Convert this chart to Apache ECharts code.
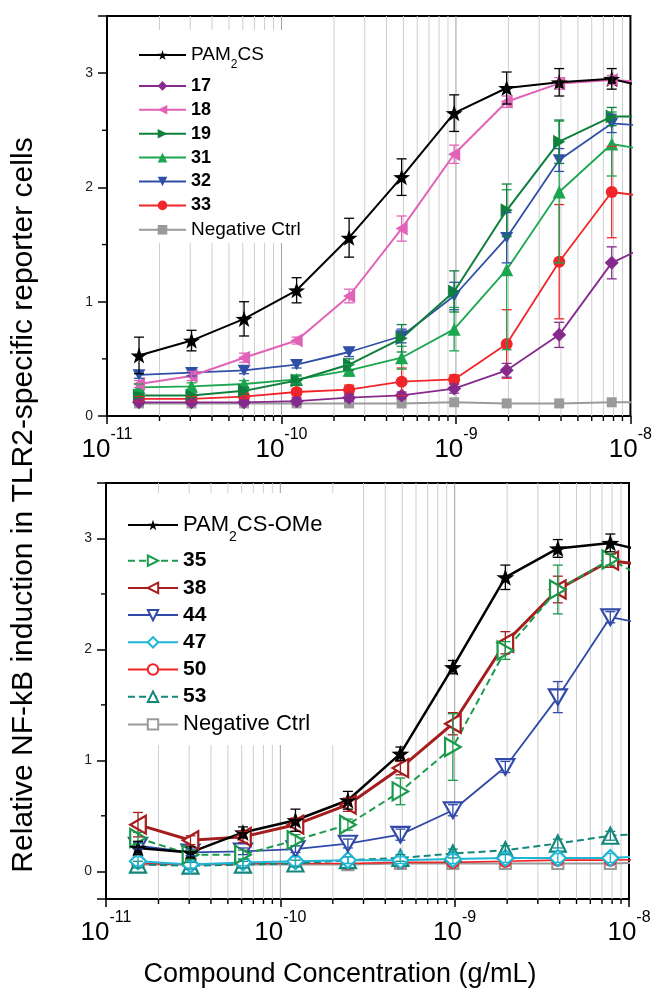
<!DOCTYPE html>
<html>
<head>
<meta charset="utf-8">
<script src="https://cdn.jsdelivr.net/npm/echarts@6/dist/echarts.min.js"></script>
<style>
html, body { margin: 0; padding: 0; background: #fff; }
#chart { width: 655px; height: 990px; }
</style>
</head>
<body>
<div id="chart"></div>
<script>
// concentrations in g/mL (2-fold dilutions, the last one sits past the right edge)
var conc = [1.526e-11, 3.052e-11, 6.104e-11, 1.221e-10, 2.441e-10, 4.883e-10, 9.766e-10, 1.953e-9, 3.906e-9, 7.813e-9, 1.5625e-8];
var decades = [1e-11, 1e-10, 1e-9, 1e-8];
var minorMult = [2, 3, 4, 5, 6, 7, 8, 9];
var yMinor = [0.5, 1.5, 2.5];

// top panel
var pam2cs    = [0.53, 0.66, 0.85, 1.10, 1.56, 2.09, 2.65, 2.87, 2.92, 2.95, 2.84];
var pam2csErr = [0.16, 0.09, 0.15, 0.11, 0.17, 0.16, 0.16, 0.14, 0.12, 0.09];
var c17    = [0.12, 0.12, 0.12, 0.13, 0.16, 0.18, 0.24, 0.40, 0.71, 1.34, 1.56];
var c17Err = [0.02, 0.02, 0.02, 0.03, 0.03, 0.03, 0.04, 0.06, 0.11, 0.14];
var c18    = [0.28, 0.35, 0.51, 0.66, 1.05, 1.64, 2.29, 2.75, 2.91, 2.94, 2.91];
var c18Err = [0.03, 0.04, 0.04, 0.03, 0.06, 0.11, 0.08, 0.05, 0.05, 0.04];
var c19    = [0.18, 0.18, 0.22, 0.31, 0.45, 0.68, 1.09, 1.80, 2.40, 2.62, 2.62];
var c19Err = [0.02, 0.02, 0.03, 0.04, 0.05, 0.12, 0.18, 0.23, 0.19, 0.08];
var c31    = [0.25, 0.26, 0.28, 0.32, 0.40, 0.51, 0.76, 1.28, 1.96, 2.38, 2.30];
var c31Err = [0.03, 0.03, 0.03, 0.04, 0.05, 0.10, 0.19, 0.70, 0.62, 0.28];
var c32    = [0.36, 0.38, 0.40, 0.45, 0.56, 0.70, 1.05, 1.56, 2.24, 2.56, 2.53];
var c32Err = [0.03, 0.03, 0.03, 0.03, 0.04, 0.06, 0.12, 0.22, 0.10, 0.08];
var c33    = [0.15, 0.15, 0.17, 0.21, 0.23, 0.30, 0.32, 0.63, 1.35, 1.96, 1.90];
var c33Err = [0.02, 0.02, 0.02, 0.03, 0.04, 0.12, 0.04, 0.30, 0.50, 0.40];
var negTop = [0.11, 0.11, 0.11, 0.11, 0.11, 0.11, 0.12, 0.11, 0.11, 0.12, 0.12];

// bottom panel
var pamOMe    = [0.21, 0.17, 0.35, 0.46, 0.64, 1.06, 1.84, 2.65, 2.91, 2.96, 2.85];
var pamOMeErr = [0.06, 0.05, 0.05, 0.10, 0.08, 0.06, 0.06, 0.11, 0.08, 0.08];
var c35    = [0.30, 0.15, 0.15, 0.28, 0.42, 0.72, 1.12, 1.99, 2.54, 2.81, 2.56];
var c35Err = [0.05, 0.04, 0.04, 0.05, 0.05, 0.12, 0.30, 0.08, 0.22, 0.05];
var c38    = [0.42, 0.28, 0.31, 0.42, 0.60, 0.93, 1.33, 2.06, 2.54, 2.80, 2.74];
var c38Err = [0.11, 0.04, 0.05, 0.06, 0.06, 0.06, 0.10, 0.10, 0.12, 0.06];
var c44    = [0.23, 0.17, 0.18, 0.20, 0.25, 0.33, 0.55, 0.94, 1.57, 2.29, 2.20];
var c44Err = [0.03, 0.03, 0.03, 0.03, 0.04, 0.05, 0.05, 0.05, 0.14, 0.05];
var c47    = [0.09, 0.06, 0.08, 0.09, 0.10, 0.10, 0.11, 0.12, 0.12, 0.12, 0.14];
var c47Err = [0.04, 0.03, 0.03, 0.04, 0.03, 0.03, 0.04, 0.04, 0.04, 0.04];
var c50    = [0.07, 0.06, 0.07, 0.07, 0.07, 0.08, 0.08, 0.09, 0.10, 0.10, 0.11];
var c53    = [0.06, 0.05, 0.06, 0.07, 0.10, 0.12, 0.16, 0.19, 0.25, 0.32, 0.35];
var c53Err = [0.03, 0.03, 0.03, 0.03, 0.03, 0.03, 0.04, 0.04, 0.04, 0.04];
var negBot = [0.06, 0.06, 0.06, 0.06, 0.06, 0.07, 0.07, 0.07, 0.07, 0.07, 0.08];

var FONT = '"Liberation Sans", Arial, sans-serif';
var STAR = 'path://M50,0L61.76,33.82L97.55,34.55L69.02,56.18L79.39,90.45L50,70L20.61,90.45L30.98,56.18L2.45,34.55L38.24,33.82Z';
var TRI_DOWN = 'path://M0,0L10,0L5,8.66Z';
var TRI_LEFT = 'path://M8.66,0L8.66,10L0,5Z';
var TRI_RIGHT = 'path://M0,0L8.66,5L0,10Z';

// blank areas behind each legend where the gridlines are left out
var legendBox = [
    { x0: 126, x1: 318, y0: 30, y1: 243 },
    { x0: 115, x1: 350, y0: 493, y1: 745 }
];

function pairs(vals) {
    return vals.map(function (v, i) { return [conc[i], v]; });
}

function lineSeries(name, panel, vals, color, symbol, size, open, width, dashed) {
    return {
        name: name,
        type: 'line',
        xAxisIndex: panel,
        yAxisIndex: panel,
        data: pairs(vals),
        symbol: symbol,
        symbolSize: size,
        symbolKeepAspect: true,
        showAllSymbol: true,
        clip: true,
        z: 2,
        lineStyle: { color: color, width: width, type: dashed ? [7, 4] : 'solid' },
        itemStyle: open ? { color: '#fff', borderColor: color, borderWidth: 2.2 } : { color: color, borderWidth: 0 }
    };
}

function errSeries(panel, vals, errs, color) {
    var d = errs.map(function (e, i) { return [conc[i], vals[i] - e, vals[i] + e]; });
    return {
        type: 'custom',
        xAxisIndex: panel,
        yAxisIndex: panel,
        silent: true,
        z: 3,
        data: d,
        encode: { x: 0, y: [1, 2] },
        renderItem: function (params, api) {
            var hi = api.coord([api.value(0), api.value(2)]);
            var lo = api.coord([api.value(0), api.value(1)]);
            var w = 5;
            var st = { stroke: color, lineWidth: 1.3 };
            return {
                type: 'group',
                children: [
                    { type: 'line', shape: { x1: hi[0], y1: hi[1], x2: lo[0], y2: lo[1] }, style: st },
                    { type: 'line', shape: { x1: hi[0] - w, y1: hi[1], x2: hi[0] + w, y2: hi[1] }, style: st },
                    { type: 'line', shape: { x1: lo[0] - w, y1: lo[1], x2: lo[0] + w, y2: lo[1] }, style: st }
                ]
            };
        }
    };
}

// vertical gridlines: kind 1 = minor (2..9 x decade), kind 2 = inner decades
var gridX = [];
decades.slice(0, -1).forEach(function (d, i) {
    if (i > 0) gridX.push([d, 1, 2]);
    minorMult.forEach(function (m) { gridX.push([m * d, 1, 1]); });
});

function gridXSeries(panel) {
    var box = legendBox[panel];
    return {
        type: 'custom',
        xAxisIndex: panel,
        yAxisIndex: panel,
        silent: true,
        z: 1,
        data: gridX,
        renderItem: function (params, api) {
            var p = api.coord([api.value(0), api.value(1)]);
            var major = api.value(2) === 2;
            var cs = params.coordSys;
            var bottom = cs.y + cs.height;
            var st = { stroke: major ? '#a0a0a0' : '#cfcfcf', lineWidth: 1 };
            var kids = [];
            if (p[0] > box.x0 && p[0] < box.x1) {
                kids.push({ type: 'line', shape: { x1: p[0], y1: cs.y, x2: p[0], y2: box.y0 }, style: st });
                kids.push({ type: 'line', shape: { x1: p[0], y1: box.y1, x2: p[0], y2: bottom }, style: st });
            } else {
                kids.push({ type: 'line', shape: { x1: p[0], y1: cs.y, x2: p[0], y2: bottom }, style: st });
            }
            if (!major) {
                kids.push({ type: 'line', shape: { x1: p[0], y1: bottom, x2: p[0], y2: bottom + 5 }, style: { stroke: '#000', lineWidth: 1.4 } });
            }
            return { type: 'group', children: kids };
        }
    };
}

function minorYSeries(panel) {
    return {
        type: 'custom',
        xAxisIndex: panel,
        yAxisIndex: panel,
        silent: true,
        z: 1,
        data: yMinor.map(function (v) { return [decades[0], v]; }),
        renderItem: function (params, api) {
            var p = api.coord([api.value(0), api.value(1)]);
            var x0 = params.coordSys.x;
            return { type: 'line', shape: { x1: x0 - 5, y1: p[1], x2: x0, y2: p[1] }, style: { stroke: '#000', lineWidth: 1.4 } };
        }
    };
}

function xAxisOpt(panel) {
    return {
        type: 'log',
        gridIndex: panel,
        logBase: 10,
        min: decades[0],
        max: decades[decades.length - 1],
        axisLine: { onZero: false, lineStyle: { color: '#000', width: 2 } },
        axisTick: { show: true, inside: false, length: 8, lineStyle: { color: '#000', width: 1.5 } },
        minorTick: { show: false },
        splitLine: { show: false },
        axisLabel: {
            margin: 11,
            color: '#000',
            fontFamily: FONT,
            formatter: function (v) {
                return '{b|10}{s|' + Math.round(Math.log10(v)) + '}';
            },
            rich: {
                b: { fontSize: 26, fontFamily: FONT, color: '#000', lineHeight: 36, padding: [10, 0, 0, 0] },
                s: { fontSize: 16, fontFamily: FONT, color: '#000', lineHeight: 16, verticalAlign: 'top' }
            }
        }
    };
}

function yAxisOpt(panel, min) {
    return {
        type: 'value',
        gridIndex: panel,
        min: min,
        max: 3.5,
        splitNumber: 4,
        axisLine: { show: true, onZero: false, lineStyle: { color: '#000', width: 2 } },
        axisTick: { show: true, inside: false, length: 9, lineStyle: { color: '#000', width: 1.5 } },
        splitLine: { show: false },
        axisLabel: {
            margin: 14,
            fontSize: 14,
            fontFamily: FONT,
            color: '#222',
            formatter: function (v) {
                return Math.abs(v - Math.round(v)) < 1e-6 ? String(Math.round(v)) : '';
            }
        }
    };
}

function legendOpt(names, left, top, fs, bfs, gap, subPad, iw, ih) {
    return {
        orient: 'vertical',
        left: left,
        top: top,
        data: names,
        selectedMode: false,
        itemWidth: iw,
        itemHeight: ih,
        itemGap: gap,
        padding: 0,
        formatter: function (name) {
            if (name.indexOf('PAM2CS') === 0) return '{n|PAM}{sub|2}{n|CS' + name.slice(6) + '}';
            if (name.trim() === 'Negative Ctrl') return '{n|Negative Ctrl}';
            return '{b|' + name + '}';
        },
        textStyle: {
            fontFamily: FONT,
            color: '#000',
            rich: {
                n: { fontSize: fs, fontFamily: FONT, color: '#000' },
                b: { fontSize: bfs, fontFamily: FONT, fontWeight: 'bold', color: '#000' },
                sub: { fontSize: Math.round(fs * 0.62), fontFamily: FONT, color: '#000', lineHeight: subPad + Math.round(fs * 0.62), padding: [subPad, 0, 0, 0] }
            }
        }
    };
}

var series = [
    gridXSeries(0), minorYSeries(0), gridXSeries(1), minorYSeries(1),
    // top panel
    lineSeries('Negative Ctrl', 0, negTop, '#9a9a9a', 'rect', 10, false, 2),
    lineSeries('33', 0, c33, '#f0262a', 'circle', 12, false, 1.8),
    lineSeries('31', 0, c31, '#1ba64f', 'triangle', 13, false, 1.8),
    lineSeries('32', 0, c32, '#2f50a6', TRI_DOWN, 13, false, 1.8),
    lineSeries('19', 0, c19, '#0f7f3c', TRI_RIGHT, 14, false, 2),
    lineSeries('18', 0, c18, '#e063b8', TRI_LEFT, 14, false, 2),
    lineSeries('17', 0, c17, '#862a8e', 'diamond', 14, false, 1.8),
    lineSeries('PAM2CS', 0, pam2cs, '#000', STAR, 17, false, 2),
    errSeries(0, c33, c33Err, '#f0262a'),
    errSeries(0, c31, c31Err, '#1ba64f'),
    errSeries(0, c32, c32Err, '#2f50a6'),
    errSeries(0, c19, c19Err, '#0f7f3c'),
    errSeries(0, c18, c18Err, '#e063b8'),
    errSeries(0, c17, c17Err, '#862a8e'),
    errSeries(0, pam2cs, pam2csErr, '#000'),
    // bottom panel
    lineSeries('Negative Ctrl ', 1, negBot, '#9a9a9a', 'rect', 11, true, 2),
    lineSeries('50', 1, c50, '#ef2525', 'circle', 11, true, 1.6),
    lineSeries('53', 1, c53, '#12877c', 'triangle', 16, true, 2, true),
    lineSeries('47', 1, c47, '#1fb6d6', 'diamond', 16, true, 2),
    lineSeries('44', 1, c44, '#3149a8', TRI_DOWN, 18, true, 1.8),
    lineSeries('38', 1, c38, '#a51d1d', TRI_LEFT, 18, true, 3),
    lineSeries('35', 1, c35, '#1b9a4c', TRI_RIGHT, 18, true, 2, true),
    lineSeries('PAM2CS-OMe', 1, pamOMe, '#000', STAR, 18, false, 2.5),
    errSeries(1, c53, c53Err, '#12877c'),
    errSeries(1, c47, c47Err, '#1fb6d6'),
    errSeries(1, c44, c44Err, '#3149a8'),
    errSeries(1, c38, c38Err, '#a51d1d'),
    errSeries(1, c35, c35Err, '#1b9a4c'),
    errSeries(1, pamOMe, pamOMeErr, '#000')
];

var chart = echarts.init(document.getElementById('chart'), null, { renderer: 'canvas' });
chart.setOption({
    animation: false,
    backgroundColor: '#fff',
    grid: [
        { left: 107, top: 16, width: 525, height: 400, show: true, borderColor: '#000', borderWidth: 2, backgroundColor: 'transparent' },
        { left: 106, top: 483, width: 523, height: 416, show: true, borderColor: '#000', borderWidth: 2, backgroundColor: 'transparent' }
    ],
    xAxis: [xAxisOpt(0), xAxisOpt(1)],
    yAxis: [yAxisOpt(0, 0), yAxisOpt(1, -0.25)],
    legend: [
        legendOpt(['PAM2CS', '17', '18', '19', '31', '32', '33', 'Negative Ctrl'],
            138, 39, 19, 18, 5.9, 20, 47, 12),
        legendOpt(['PAM2CS-OMe', '35', '38', '44', '47', '50', '53', 'Negative Ctrl '],
            127, 506, 22, 21, 6.2, 24, 50, 13)
    ],
    graphic: [
        {
            type: 'text', x: 24, y: 505, rotation: Math.PI / 2,
            style: { text: 'Relative NF-kB induction in TLR2-specific reporter cells', fontSize: 30, fontFamily: FONT, fill: '#000', align: 'center', verticalAlign: 'middle' }
        },
        {
            type: 'text', x: 340, y: 975,
            style: { text: 'Compound Concentration (g/mL)', fontSize: 27, fontFamily: FONT, fill: '#000', align: 'center', verticalAlign: 'middle' }
        }
    ],
    series: series
});
</script>
</body>
</html>
